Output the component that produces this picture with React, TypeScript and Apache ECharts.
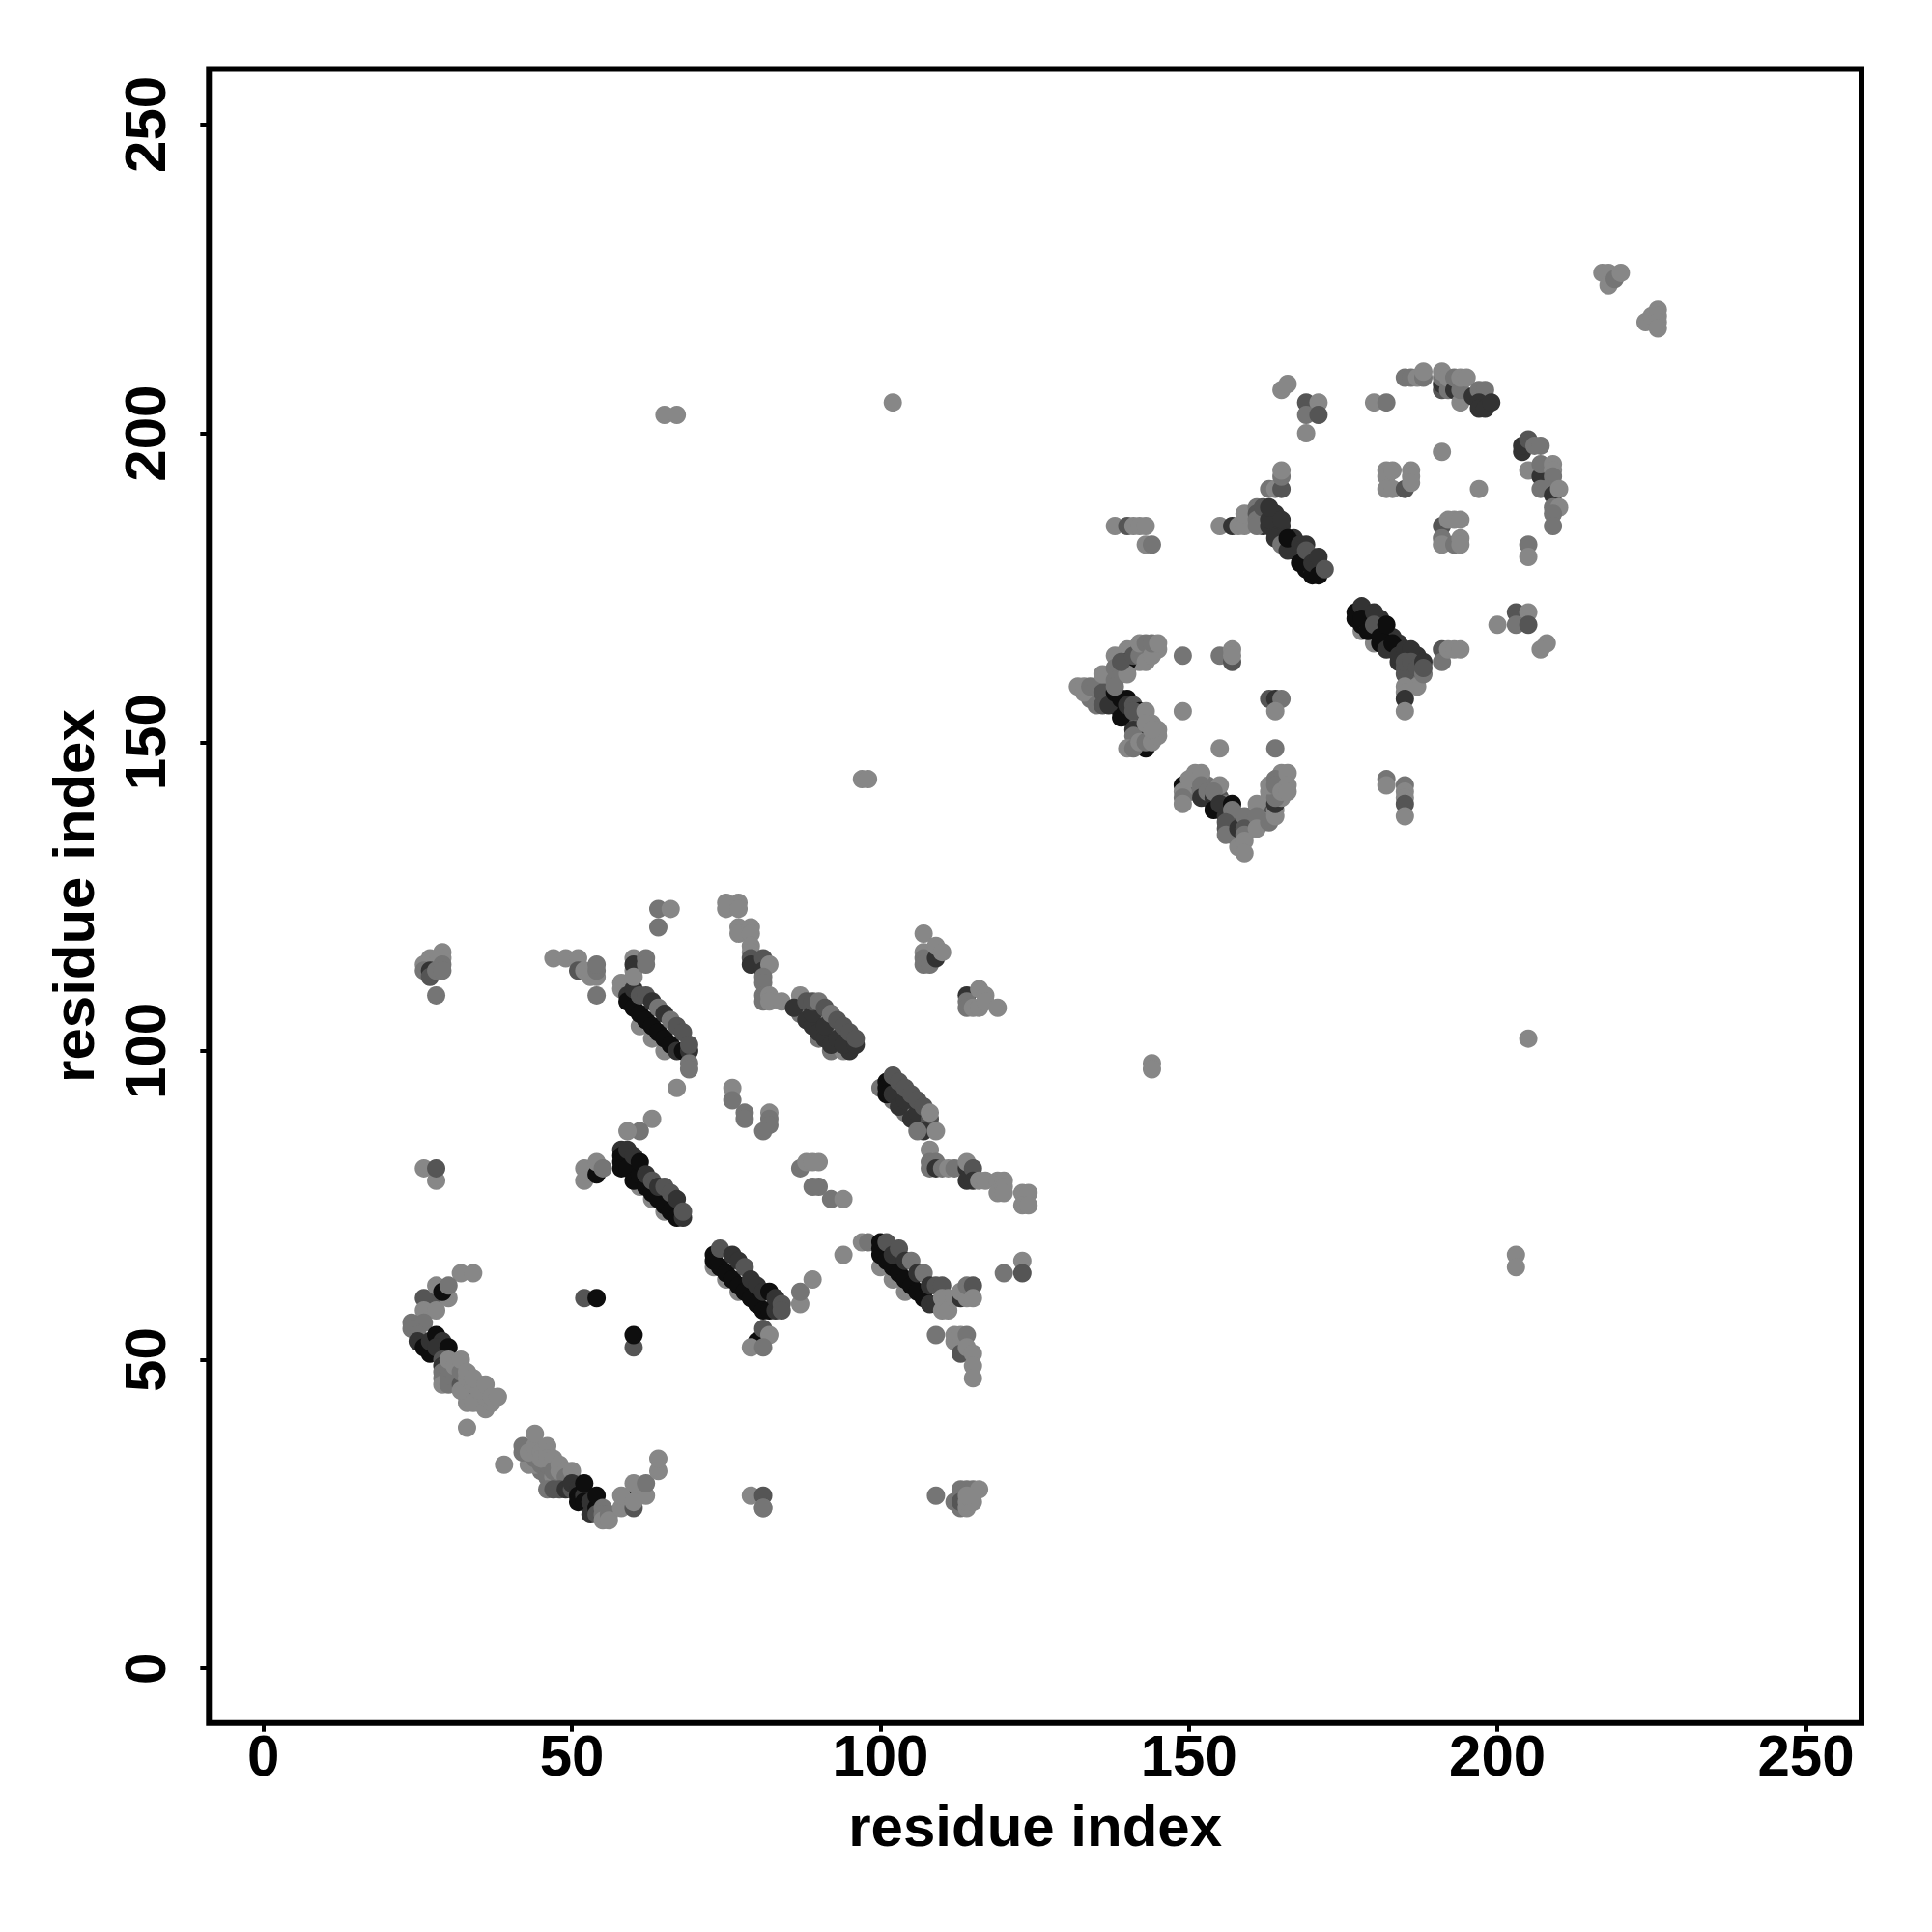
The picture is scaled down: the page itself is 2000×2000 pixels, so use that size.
import React, { useEffect, useRef } from "react";
import * as echarts from "echarts";

const TICKS = [0, 50, 100, 150, 200, 250];
const AXIS_NAME = "residue index";
// contact strength level per point: 0 weakest ... 4 strongest
const LEVEL_GREYS = ["#878787", "#757575", "#555555", "#333333", "#0e0e0e"];

const strandA = [[32,64,0],[34,64,0],[28,60,2],[26,60,2],[26,58,0],[28,58,0],[30,60,0],[28,62,0],[29,61,4],[30,62,1],[24,56,1],[26,56,1],[24,55,1],[25,54,1],[25,53,3],[27,51,4],[26,52,4],[27,53,3],[28,54,4],[29,53,3],[28,52,3],[30,52,4],[29,50,2],[29,49,3],[29,48,1],[29,47,1],[29,46,0],[30,49,1],[30,48,1],[30,47,1],[30,46,1],[31,47,1],[32,46,2],[33,44,1],[34,44,1],[35,43,0],[33,45,1],[33,43,0],[32,45,0],[34,43,0],[36,42,0],[37,43,0],[35,46,1],[36,44,0],[30,50,0],[31,49,0],[32,48,1],[33,47,0],[34,46,0],[35,45,0],[32,50,0],[33,48,0],[34,47,0],[36,46,0],[37,44,0],[38,44,0],[33,39,0]];
const strandB = [[39,33,0],[43,33,0],[42,35,1],[42,36,1],[44,35,1],[45,32,1],[44,33,0],[45,33,1],[44,34,1],[46,31,1],[47,30,1],[48,30,2],[46,33,1],[47,31,0],[48,31,1],[49,30,1],[50,31,2],[43,35,0],[44,36,0],[45,35,0],[45,34,0],[46,36,0],[44,38,0],[46,35,0],[46,34,0],[47,34,0],[47,32,1],[48,33,0],[48,32,0],[49,32,0],[49,31,1],[46,29,1],[47,29,2],[48,29,2],[49,29,3],[50,29,2],[50,32,0],[50,30,3],[51,29,3],[51,28,4],[51,27,4],[52,28,3],[52,27,4],[52,30,4],[53,27,3],[53,25,3],[54,26,4],[54,25,2],[54,28,4],[55,26,1],[55,25,1],[55,24,0],[56,25,1],[56,24,0],[58,26,0],[60,26,2],[60,28,4],[58,28,0],[60,30,0],[61,28,0],[62,28,0],[62,30,1],[60,27,0],[64,32,0],[64,34,0]];
const isolatedLow = [[52,60,2],[54,60,4],[60,52,2],[60,54,4],[79,28,0],[81,28,2],[81,26,0],[81,26,1],[80,53,4],[81,55,2],[82,54,0],[79,52,0],[81,52,1],[109,28,1],[26,81,0],[28,79,0],[28,81,2]];
const strandC = [[29,116,0],[29,115,0],[27,115,0],[26,114,0],[26,113,1],[27,113,3],[27,112,2],[28,113,1],[29,114,1],[29,113,1],[28,109,1],[47,115,0],[49,115,0],[51,115,0],[51,113,2],[52,113,0],[53,112,0],[54,112,0],[54,113,1],[54,114,1],[54,109,1]];
const helixA = [[61,104,0],[63,102,0],[65,100,0],[58,111,0],[58,110,0],[59,109,3],[59,108,4],[60,107,4],[61,106,4],[62,105,4],[63,104,4],[64,103,4],[65,102,4],[66,101,4],[67,100,3],[68,100,4],[69,100,3],[60,110,3],[61,109,2],[62,109,2],[63,108,3],[64,107,1],[65,106,3],[66,105,1],[67,104,2],[68,103,2],[69,101,2],[69,98,1],[69,97,1],[67,94,0],[60,115,0],[60,113,0],[60,114,3],[60,112,0],[62,115,1],[62,114,1],[64,123,1],[66,123,0],[64,120,1]];
const strandD = [[75,124,0],[75,123,0],[77,124,0],[77,123,0],[77,120,0],[77,119,0],[79,120,0],[79,119,0],[79,117,0],[79,116,0],[79,115,2],[79,114,3],[81,115,2],[81,113,3],[82,114,0],[81,112,1],[81,111,1],[81,109,1],[81,108,1],[82,109,0],[82,108,0],[84,108,0],[76,94,0],[76,92,1],[78,90,1],[78,89,1],[82,90,0],[82,89,1],[82,88,1],[81,87,1],[63,89,0],[61,87,1],[59,87,0]];
const helixB = [[52,81,0],[52,79,0],[54,80,4],[54,82,0],[55,81,1],[63,76,0],[65,74,0],[61,78,0],[58,84,3],[58,83,4],[58,82,4],[58,81,4],[59,81,4],[60,79,4],[61,80,4],[62,78,4],[63,77,4],[64,76,4],[65,75,4],[66,74,4],[67,73,4],[68,73,3],[59,84,3],[60,83,3],[61,82,4],[62,80,3],[63,79,2],[64,78,3],[65,78,2],[66,77,2],[67,76,3],[68,74,2]];
const helixC = [[73,65,0],[75,63,0],[77,61,0],[73,67,4],[73,66,4],[74,65,4],[75,64,4],[76,63,4],[77,62,4],[78,61,4],[79,60,4],[80,59,4],[81,58,4],[82,58,4],[83,58,3],[74,68,2],[76,67,3],[77,66,3],[78,65,2],[79,63,3],[80,62,3],[81,61,3],[82,61,4],[83,60,3],[84,59,2],[84,58,2],[87,59,0],[87,61,1],[89,63,0],[94,67,0],[97,69,0],[98,69,1]];
const helixD = [[90,102,1],[92,100,1],[87,109,0],[87,108,0],[87,106,1],[86,107,3],[90,106,0],[92,104,0],[94,100,0],[88,105,3],[89,104,3],[90,103,3],[91,102,3],[92,101,3],[93,102,3],[95,100,3],[88,108,2],[89,106,3],[91,104,3],[94,101,3],[89,108,2],[90,108,1],[91,107,2],[92,106,1],[93,105,2],[94,104,2],[95,103,2],[96,101,3],[96,102,2]];
const helixE = [[100,94,1],[102,92,1],[104,90,1],[106,88,1],[101,95,4],[101,94,4],[101,93,4],[102,93,3],[103,91,3],[104,92,3],[105,89,3],[106,90,3],[102,96,2],[103,95,2],[104,94,2],[105,93,2],[106,92,2],[107,91,2],[108,89,2],[107,87,3],[106,87,1],[108,90,0],[109,87,0],[108,84,0],[108,82,1],[108,81,1],[109,82,1],[109,81,3],[110,81,1],[111,81,0],[112,81,1],[114,81,3],[114,79,3],[114,82,0],[115,81,2],[115,79,3],[116,79,0],[117,79,0],[119,79,0],[120,79,0],[119,77,0],[120,78,0],[120,77,0],[123,77,0],[124,77,0],[123,75,0],[124,75,0],[87,81,1],[88,82,0],[89,82,0],[90,82,0],[89,78,1],[90,78,1],[92,76,1],[94,76,0]];
const helixF = [[100,65,0],[102,63,0],[104,61,0],[100,69,4],[100,67,4],[100,68,4],[101,66,4],[102,65,4],[103,64,4],[104,63,4],[105,62,4],[106,61,4],[107,60,4],[108,59,3],[109,59,3],[101,69,2],[102,67,3],[103,68,2],[104,66,3],[105,66,1],[106,64,3],[107,64,1],[108,62,3],[109,62,2],[110,62,2],[110,60,0],[110,58,0],[111,60,0],[111,58,0],[112,60,0],[113,60,3],[113,61,0],[114,60,0],[114,62,1],[115,62,2],[115,60,0],[120,64,1],[123,66,0],[123,64,2]];
const tailG = [[109,54,1],[112,54,0],[112,53,0],[113,51,2],[113,54,0],[114,54,1],[114,52,0],[115,51,0],[115,49,0],[115,47,0],[113,29,1],[114,29,1],[115,29,1],[116,29,0],[112,27,1],[113,26,1],[113,27,2],[114,26,0],[114,27,0],[115,27,0],[114,28,0],[107,119,0],[107,116,0],[107,115,1],[107,114,1],[108,114,1],[109,115,3],[109,117,0],[110,116,0],[114,109,3],[114,108,1],[114,107,1],[115,107,0],[116,107,0],[116,110,0],[117,109,0],[117,108,0],[119,107,0]];
const isolatedMid = [[65,203,0],[67,203,0],[102,205,0],[97,144,0],[98,144,0],[205,102,0],[144,98,0],[144,97,0],[203,67,0],[203,65,0]];
const clusterH = [[134,157,1],[135,157,1],[134,158,1],[137,158,1],[137,157,2],[138,157,3],[138,156,3],[139,156,3],[139,155,4],[140,154,2],[141,154,2],[141,153,2],[142,153,1],[142,151,1],[143,151,1],[143,152,0],[144,151,0],[144,153,0],[137,160,1],[138,161,1],[139,162,1],[139,161,0],[140,162,1],[141,163,1],[142,165,1],[143,165,1],[144,165,1],[143,164,1],[141,165,0],[145,165,0],[139,164,0],[142,163,0],[132,159,0],[133,159,0],[133,158,0],[134,159,1],[135,159,1],[135,156,1],[136,158,2],[136,156,2],[137,156,3],[138,158,4],[139,154,4],[139,157,4],[140,157,4],[140,156,3],[141,156,2],[142,155,4],[141,155,2],[136,161,0],[138,164,0],[138,162,1],[138,160,1],[138,159,1],[140,165,0],[140,163,4],[140,161,0],[139,163,2],[141,164,2],[142,164,1],[142,166,0],[143,163,0],[143,166,1],[144,164,0],[144,166,1],[145,166,0],[143,155,0],[141,152,3],[142,152,3],[141,151,1],[143,149,4],[140,149,0],[141,149,1],[142,150,0],[143,150,1],[143,153,0],[144,150,0],[145,152,0],[145,151,0],[144,152,0]];
const clusterI = [[150,143,1],[150,142,1],[151,144,0],[151,142,1],[152,144,0],[153,143,1],[153,141,2],[154,140,3],[155,141,2],[155,139,2],[156,139,3],[156,140,1],[157,138,2],[157,137,3],[157,136,2],[158,138,1],[158,137,2],[158,135,3],[158,134,1],[160,137,1],[160,136,0],[160,138,1],[161,139,0],[162,137,1],[162,138,1],[163,138,0],[163,140,2],[163,141,0],[163,142,0],[164,142,0],[165,143,0],[165,144,0],[165,145,0],[164,139,0],[156,136,2],[157,135,1],[149,143,4],[149,142,0],[149,141,1],[149,140,0],[150,144,0],[151,145,0],[152,145,0],[152,143,1],[152,141,3],[153,142,1],[154,141,3],[155,143,0],[154,142,1],[154,139,4],[155,140,3],[157,140,4],[156,138,3],[157,139,1],[156,137,2],[156,135,1],[158,136,3],[158,133,0],[159,138,1],[159,136,2],[159,135,1],[159,134,0],[159,132,0],[161,140,0],[161,138,1],[161,136,0],[163,137,1],[164,138,0],[164,140,3],[165,141,0],[164,141,1],[163,143,0],[164,144,1],[164,143,1],[165,142,0],[166,145,0],[166,143,0],[166,142,0],[149,164,1],[155,164,1],[157,165,0],[157,163,2],[157,164,0],[149,155,0],[163,157,2],[164,157,3],[165,157,1],[164,155,0],[155,149,0],[164,149,1]];
const groupJ = [[160,187,1],[160,186,1],[162,187,2],[162,186,2],[162,185,3],[163,187,2],[164,187,3],[164,185,3],[164,184,3],[165,184,3],[165,185,3],[167,183,3],[167,181,4],[167,182,4],[168,181,2],[169,180,3],[169,178,4],[170,178,3],[170,180,2],[171,178,4],[171,179,2],[138,185,0],[140,185,2],[141,185,0],[142,185,0],[143,185,0],[143,182,0],[144,182,1],[155,185,0],[157,185,3],[158,185,0],[159,185,0],[159,187,0],[161,188,1],[161,187,2],[161,186,1],[161,185,1],[162,188,2],[163,185,3],[163,186,3],[164,183,3],[163,188,3],[165,186,3],[165,182,1],[166,181,3],[166,183,4],[168,179,4],[168,182,3],[169,182,3],[169,181,2],[170,177,4],[170,179,3],[171,177,4],[171,180,3],[172,178,2],[163,191,1],[164,191,0],[165,191,2],[165,193,1],[165,194,0],[165,207,0],[166,208,0],[169,205,2],[171,205,0],[169,203,1],[171,203,2],[169,200,0]];
const groupK = [[180,205,0],[182,205,1],[185,209,1],[186,209,1],[187,209,0],[188,209,1],[188,210,0],[191,207,2],[191,208,3],[191,209,1],[191,210,0],[192,207,1],[192,209,0],[193,207,3],[193,209,1],[194,205,0],[194,207,1],[194,209,0],[195,209,0],[196,206,3],[197,207,1],[198,207,1],[197,205,3],[197,204,3],[198,204,3],[199,205,3],[191,197,0],[197,191,0],[182,194,0],[182,193,0],[182,191,0],[183,194,0],[183,191,0],[185,191,2],[186,194,0],[186,193,0],[186,192,0],[191,185,2],[192,186,0],[193,186,0],[194,186,0],[191,183,1],[191,182,0],[193,182,1],[194,183,0],[194,182,0],[205,182,1],[205,180,0],[200,169,0],[203,171,2],[205,171,0],[203,169,1],[205,169,2],[208,166,0],[207,165,0]];
const groupL = [[204,197,3],[204,198,3],[205,199,2],[206,198,1],[207,198,1],[205,194,0],[207,193,3],[207,195,1],[209,195,0],[209,194,0],[209,193,1],[207,191,1],[208,191,1],[209,190,3],[210,191,0],[209,188,1],[210,188,0],[209,187,1],[209,185,1]];
const helixM = [[178,168,0],[180,166,0],[178,169,4],[179,170,3],[179,169,3],[181,168,3],[181,170,3],[181,166,4],[182,167,3],[182,166,4],[183,165,4],[183,167,3],[184,166,3],[184,165,3],[184,163,3],[185,164,3],[185,162,2],[186,162,2],[186,161,1],[186,160,0],[187,161,1],[186,164,3],[187,163,2],[187,164,3],[177,171,4],[177,170,4],[178,172,3],[178,170,4],[179,168,4],[180,171,3],[180,169,2],[181,167,4],[182,169,4],[182,165,3],[183,166,4],[184,164,3],[185,165,3],[186,165,3],[185,161,2],[185,163,2],[186,163,2],[187,162,2],[187,159,0],[188,163,3],[188,161,1],[188,162,2],[185,159,0],[185,158,0],[185,157,3],[185,155,0],[182,144,1],[182,143,0],[185,143,1],[185,142,0],[185,141,0],[185,140,2],[185,138,0],[191,165,2],[191,163,1],[192,165,0],[193,165,0],[194,165,0]];
const groupN = [[217,226,0],[218,226,0],[218,224,0],[219,225,1],[220,226,0],[224,218,0],[225,219,0],[226,220,0],[226,219,0],[226,218,0],[226,217,0]];

const CONTACTS = [strandA, strandB, isolatedLow, strandC, helixA, strandD, helixB, helixC, helixD, helixE, helixF, tailG, isolatedMid, clusterH, clusterI, groupJ, groupK, groupL, helixM, groupN];

const FONT = "'Liberation Sans', Helvetica, Arial, sans-serif";

function axis(extra: any) {
  return {
    type: "value",
    min: -8.83,
    max: 259,
    name: AXIS_NAME,
    nameLocation: "middle",
    nameTextStyle: { fontFamily: FONT, fontSize: 60, fontWeight: "bold", color: "#000" },
    splitLine: { show: false },
    axisLine: { show: false, onZero: false },
    axisTick: { show: true, length: 9, lineStyle: { color: "#000", width: 4 }, customValues: TICKS },
    ...extra,
  };
}

export default function App() {
  const ref = useRef<HTMLDivElement>(null);
  useEffect(() => {
    const chart = echarts.init(ref.current!, undefined, { renderer: "svg" });
    chart.setOption({
      animation: false,
      backgroundColor: "#fff",
      grid: { show: true, left: 216.3, top: 71.4, width: 1710.7, height: 1712.3, borderColor: "#000", borderWidth: 6, backgroundColor: "transparent" },
      xAxis: axis({
        nameGap: 77,
        axisLabel: { customValues: TICKS, margin: 4, fontFamily: FONT, fontSize: 60, fontWeight: "bold", color: "#000" },
      }),
      yAxis: axis({
        nameGap: 110,
        axisLabel: { customValues: TICKS, rotate: 90, margin: 66, align: "center", verticalAlign: "middle", fontFamily: FONT, fontSize: 60, fontWeight: "bold", color: "#000" },
      }),
      series: [{
        type: "scatter",
        symbol: "circle",
        symbolSize: 19,
        silent: true,
        itemStyle: { opacity: 1 },
        data: CONTACTS.flat().map((p) => ({ value: [p[0], p[1]], itemStyle: { color: LEVEL_GREYS[p[2]] } })),
      }],
    });
    return () => chart.dispose();
  }, []);
  return <div ref={ref} style={{ position: "absolute", left: 0, top: 0, width: 2000, height: 2000 }} />;
}
